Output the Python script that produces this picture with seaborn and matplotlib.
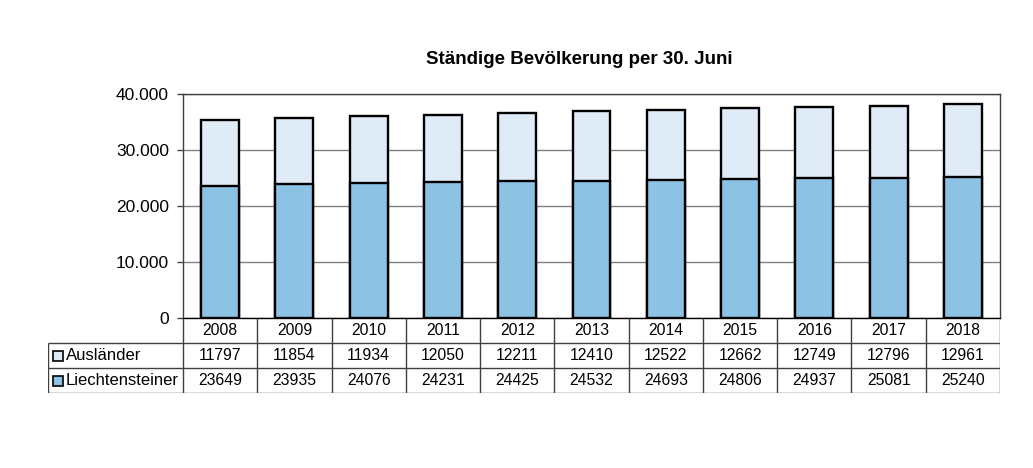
import pandas as pd
import numpy as np
import matplotlib
matplotlib.use('Agg')
import matplotlib.pyplot as plt
import seaborn as sns
from matplotlib.ticker import FuncFormatter

#data
years = ['2008', '2009', '2010', '2011', '2012', '2013', '2014', '2015', '2016', '2017', '2018']
auslaender = [11797, 11854, 11934, 12050, 12211, 12410, 12522, 12662, 12749, 12796, 12961]
liechtensteiner = [23649, 23935, 24076, 24231, 24425, 24532, 24693, 24806, 24937, 25081, 25240]
series_names = ['Ausländer', 'Liechtensteiner']
y_ticks = [0, 10000, 20000, 30000, 40000]

col_ausl = '#DFEBF7'
col_liech = '#8CC2E4'
line_col = '#404040'

df = pd.DataFrame({'Jahr': years, 'Ausländer': auslaender, 'Liechtensteiner': liechtensteiner})
df['Total'] = df['Ausländer'] + df['Liechtensteiner']

sns.set_style('white')
plt.rcParams['font.family'] = ['Liberation Sans', 'DejaVu Sans']
plt.rcParams['text.color'] = 'black'
plt.rcParams['ytick.color'] = 'black'

W, H = 1033, 468
fig = plt.figure(figsize=(W / 100, H / 100), dpi=100)
ax = fig.add_axes([183 / W, 1 - 318 / H, 817 / W, 224 / H])

#stacked bars: total first, then the lower part on top
sns.barplot(data=df, x='Jahr', y='Total', color=col_ausl, saturation=1,
            edgecolor='black', linewidth=1.7, width=0.51, errorbar=None, ax=ax, zorder=3)
sns.barplot(data=df, x='Jahr', y='Liechtensteiner', color=col_liech, saturation=1,
            edgecolor='black', linewidth=1.7, width=0.51, errorbar=None, ax=ax, zorder=3)

ax.set_xlim(-0.5, len(years) - 0.5)
ax.set_ylim(0, 40000)
ax.set_yticks(y_ticks)
ax.yaxis.set_major_formatter(FuncFormatter(lambda v, p: f'{int(v):,}'.replace(',', '.')))
ax.set_xlabel('')
ax.set_ylabel('')
ax.grid(axis='y', color='#808080', linewidth=1)
ax.set_axisbelow(True)
for s in ax.spines.values():
    s.set_visible(True)
    s.set_color(line_col)
    s.set_linewidth(1)
ax.spines['bottom'].set_color('black')
ax.tick_params(axis='x', bottom=False, labelbottom=False)
ax.tick_params(axis='y', left=True, direction='out', length=4, width=1, color=line_col,
               labelsize=12.5, labelcolor='black', pad=6)

#data table below the plot, sharing the category positions
unit_px = 817 / len(years)
x0 = -0.5 - 135 / unit_px
tab = fig.add_axes([48 / W, 1 - 393 / H, 952 / W, 75 / H])
tab.set_xlim(x0, len(years) - 0.5)
tab.set_ylim(0, 3)
tab.axis('off')

edges = np.arange(len(years) + 1) - 0.5
tab.vlines(edges, 0, 3, color=line_col, linewidth=1)
tab.vlines([x0], 0, 2, color=line_col, linewidth=1)
tab.hlines([0, 1, 2], x0, len(years) - 0.5, color=line_col, linewidth=1)

for i, yr in enumerate(years):
    tab.text(i, 2.5, yr, ha='center', va='center', fontsize=11.3)
    tab.text(i, 1.5, str(auslaender[i]), ha='center', va='center', fontsize=11.3)
    tab.text(i, 0.5, str(liechtensteiner[i]), ha='center', va='center', fontsize=11.3)

for row_y, name, c in [(1.5, series_names[0], col_ausl), (0.5, series_names[1], col_liech)]:
    tab.plot([x0 + 10 / unit_px], [row_y], marker='s', markersize=7.5, color=c,
             markeredgecolor='black', markeredgewidth=1.2, linestyle='none')
    tab.text(x0 + 18 / unit_px, row_y, name, ha='left', va='center', fontsize=12)

fig.text(579 / W, 1 - 60 / H, 'Ständige Bevölkerung per 30. Juni', ha='center', va='center',
         fontsize=13.5, fontweight='bold')

fig.savefig('out.png', dpi=100, facecolor='white')
